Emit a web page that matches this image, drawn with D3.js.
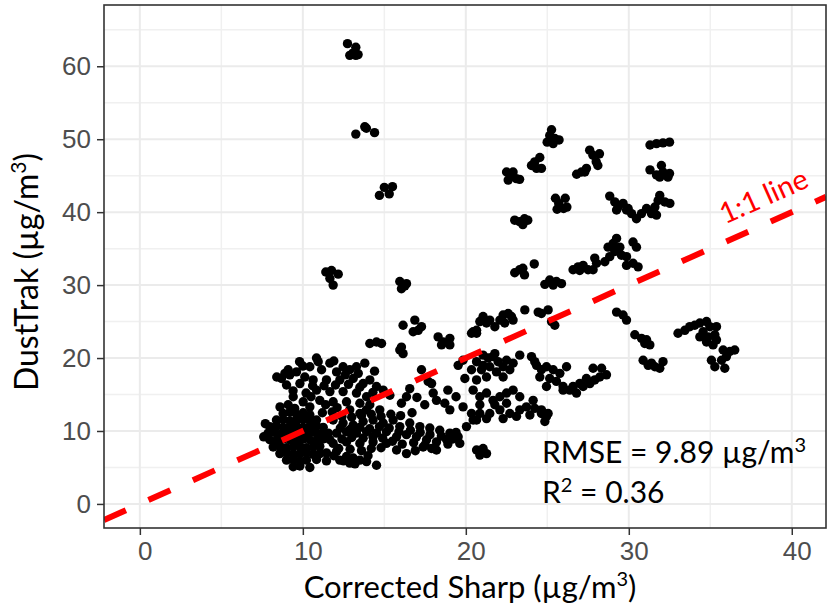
<!DOCTYPE html>
<html>
<head>
<meta charset="utf-8">
<title>DustTrak vs Corrected Sharp</title>
<script src="https://cdn.jsdelivr.net/npm/d3@7"></script>
<style>
  body { margin: 0; background: #fff; }
  svg { display: block; }
  .tick text { font-family: "Liberation Sans", Arial, sans-serif; font-size: 26px; fill: #4d4d4d; }
  .tick line { stroke: #333; stroke-width: 1.5; }
  .title { font-family: Lato, "Open Sans", sans-serif; font-size: 30px; fill: #000; }
</style>
</head>
<body>
<script>
// values: [corrected Sharp, DustTrak] in ug/m3
var highPoints = [
  [12.74,63.1],[13.25,62.6],[12.88,61.5],[13.25,61.5],[13.39,61.6],[13.07,61.8],
  [13.25,50.7],[13.8,51.7],[13.9,51.5],[14.4,50.9],
  [14.7,42.3],[15.0,43.4],[15.3,42.5],[15.5,43.5],
  [11.41,31.8],[11.76,32.0],[12.17,31.5],[11.66,30.9],[11.86,30.0],
  [15.95,30.5],[16.36,30.2],[16.05,29.5],[16.26,29.9]
];
var upperRight = [
  [25.26,51.3],[25.15,50.5],[24.99,49.6],[25.46,50.1],[25.72,49.9],[25.36,49.4],
  [24.54,47.5],[24.23,46.9],[24.03,46.4],[24.34,46.0],[24.64,46.0],
  [22.5,45.5],[22.9,45.5],[22.6,44.4],[23.1,44.6],[22.8,44.9],[23.3,44.5],
  [27.6,48.5],[27.8,47.8],[28.2,48.0],[28.0,46.9],[28.1,46.4],[27.4,46.0],[27.1,45.5],[26.8,45.2],[27.3,45.5],
  [31.3,49.2],[31.7,49.4],[32.1,49.5],[32.5,49.6],
  [31.3,45.8],[32.0,46.4],[32.1,45.5],[32.5,45.3],[31.9,44.8],[32.4,44.8],[31.7,45.1],
  [25.5,41.9],[26.1,41.9],[25.7,41.2],[26.0,40.5],[25.6,40.4],[26.2,40.7],
  [23.0,38.9],[23.3,38.7],[23.6,39.1],[23.5,38.3],[23.8,38.9],
  [28.83,42.2],[29.14,41.4],[29.34,40.7],[29.65,41.2],[29.86,40.3],[30.17,39.8],[30.47,39.1],[30.78,39.8],
  [31.09,40.5],[31.39,39.8],[31.6,40.7],[31.8,41.6],[31.9,42.3],[32.21,41.4],[32.52,41.2],[31.7,39.6],[29.96,40.5],[29.25,40.3],
  [29.25,36.4],[29.04,35.7],[28.73,35.2],[29.45,35.2],[29.14,34.6],[28.83,33.9],[28.53,33.2],[29.55,34.1],
  [30.26,35.9],[30.47,35.2],[29.86,33.9],[30.26,33.0],[30.57,32.5],[29.86,32.7],
  [26.58,32.1],[26.89,32.5],[27.2,32.7],[27.5,32.1],[27.91,33.7],[28.02,33.0],[27.81,32.1],[26.99,32.0],
  [23.0,31.7],[23.3,32.1],[23.6,31.4],[24.2,32.9],[23.5,32.3],
  [24.85,30.1],[25.15,30.7],[25.56,30.5],[25.87,30.2],[25.36,30.0]
];
var midRight = [
  [21.06,25.7],[20.86,25.0],[20.45,23.6],[21.27,24.8],[21.47,25.2],[21.78,24.3],[22.09,25.2],[22.29,25.9],
  [22.6,26.1],[22.8,25.7],[22.39,24.8],[22.9,25.2],[23.62,26.6],[24.44,26.3],[24.64,26.1],[25.05,26.6],
  [25.26,25.0],[25.46,24.5],[20.66,23.4],
  [20.66,19.5],[21.06,20.4],[21.37,20.0],[21.67,20.2],[21.98,19.5],[22.29,18.8],[22.7,18.4],[21.47,18.8],
  [20.96,18.4],[21.88,18.1],[21.27,17.4],[20.66,17.0],[22.29,17.4],[22.9,19.3],[22.5,19.7],[21.78,20.6],[21.06,19.0],
  [20.45,15.6],[20.86,14.7],[21.27,15.2],[21.67,14.2],[22.09,14.7],[22.5,15.2],[22.9,15.6],[23.31,14.7],
  [23.72,13.3],[24.13,14.2],[23.31,12.9],[22.7,12.4],[22.09,12.9],[21.47,12.4],[20.86,12.4],[20.45,11.5],
  [21.27,11.7],[22.29,11.7],[23.11,12.0],[23.93,12.2],[24.64,12.4],[24.95,12.0],[24.85,11.3],[20.86,13.6],
  [21.78,13.6],[22.5,13.8],
  [23.31,20.4],[24.03,20.2],[24.34,19.0],[24.64,18.4],[24.95,18.8],[25.36,18.4],[25.77,17.9],[26.18,18.8],
  [24.54,17.4],[25.15,17.2],[25.56,16.8],[25.97,16.1],[24.95,16.1],[24.23,19.5],
  [26.38,15.6],[26.79,15.2],[27.2,16.1],[27.61,16.5],[27.91,17.0],[28.22,17.4],[28.63,17.7],[28.33,18.6],
  [27.81,18.6],[27.4,17.2],[26.99,16.5],[26.58,16.1],[25.97,15.6],
  [24.23,13.1],[24.64,12.9],[25.05,12.4],
  [20.66,7.4],[21.06,7.6],[21.27,6.9],[20.86,6.7],
  [29.25,26.3],[29.65,25.9],[29.86,25.2],
  [30.37,23.2],[30.78,22.7],[30.98,22.0],[31.29,21.8],[31.09,22.5],
  [30.88,19.7],[31.19,19.0],[31.6,18.8],[31.9,18.6],[32.1,19.5],[31.39,19.3],
  [33.02,23.4],[33.44,23.8],[33.74,24.3],[34.05,24.5],[34.36,24.8],[34.77,25.0],[34.97,24.3],[35.38,24.3],
  [34.56,23.6],[34.87,22.9],[35.28,23.2],[34.77,22.2],[35.17,21.8],[35.38,22.5],[35.79,21.1],[36.2,20.9],
  [36.5,21.1],[35.99,20.2],[35.69,19.7],[35.07,19.7],[35.28,18.8],[35.89,18.6],[34.36,22.9]
];
var midLeft = [
  [16.15,24.5],[16.87,25.2],[16.77,23.6],[17.08,23.8],[17.28,24.3],
  [14.11,22.0],[14.52,22.2],[14.83,22.0],
  [16.05,21.5],[16.15,20.6],[15.95,21.1],
  [18.3,22.9],[18.61,22.2],[19.02,22.7],[19.02,21.8],[18.51,21.8],
  [20.35,23.4],[20.66,23.8],
  [17.28,18.4],[17.69,16.8],[17.9,16.5],
  [19.53,19.0],[19.83,19.7],[19.94,17.2],[20.35,18.4],
  [16.56,15.8],[16.36,14.7],[16.05,13.8],
  [17.48,13.6],[18.2,14.2],[18.71,13.8],[19.02,12.9],[19.83,13.3],[20.35,12.4],[20.66,11.5],[20.04,10.6],
  [8.69,17.2],[9.2,17.7],[9.61,18.1],[10.12,17.4],[10.43,18.8],[10.94,19.5],[11.15,18.4],[11.66,19.3],
  [12.07,18.1],[12.47,18.8],[12.88,18.4],[13.29,18.8],[13.8,19.3],[9.0,16.3],[9.82,16.5],[10.63,17.0],
  [11.45,17.0],[12.27,17.0],[13.09,17.2],[13.7,16.5],[14.11,17.0],[14.52,16.1],[14.93,15.6],[15.34,14.9],
  [10.84,15.6],[11.66,15.4],[12.47,15.4],[13.29,15.2],[13.91,14.7],[11.04,14.2],[11.86,14.0],[12.68,14.0],
  [13.5,13.8],[14.11,13.6],[14.72,12.9],[10.43,13.3],[9.41,14.7],[10.02,14.0],[12.88,12.9],[13.5,12.4],
  [10.84,20.0],[8.4,17.4],[8.9,17.9],[8.6,13.3],[9.1,13.6],[9.5,13.1],[7.6,9.2],[7.7,11.0],
  [12.07,7.2],[12.68,6.5],[13.09,6.3],[13.5,6.0],[13.91,5.8],[14.52,5.3],[12.88,5.6],[12.27,6.0],
  [11.86,11.5],[12.47,11.1],[13.09,10.8],[13.7,11.3],[14.31,11.5],[14.93,11.1],[15.54,11.5],[15.95,10.6],
  [16.56,11.1],[17.18,10.6],[17.79,10.4],[18.4,10.1],[19.02,9.7],[19.53,9.2],[19.63,8.3],
  [12.07,9.7],[12.68,9.9],[13.29,9.7],[13.91,9.9],[14.52,9.7],[15.13,9.9],[15.75,9.2],[16.36,9.5],
  [16.97,9.2],[17.59,8.8],[18.2,8.5],[18.82,8.8],
  [11.86,8.3],[12.68,8.5],[13.5,8.3],[14.31,8.5],[15.13,8.3],[15.75,7.4],[16.36,6.9],[17.38,7.8],[18.2,7.4]
];
var bandFill = [
  [12.3,10.4],[12.9,10.2],[13.5,10.5],[14.1,10.3],[14.7,10.6],[15.3,10.4],[15.9,9.9],[16.6,10.1],
  [17.2,9.8],[17.8,9.5],[18.5,9.3],[19.2,8.9],[12.4,12.0],[13.0,11.9],[13.6,12.1],[14.2,12.3],
  [14.8,12.0],[15.4,12.3],[16.0,12.1],[16.7,12.5],[12.4,8.9],[13.0,9.1],[13.7,9.0],[14.3,9.2],
  [14.9,9.0],[15.5,8.6],[16.1,8.2],[16.8,8.4],[17.5,8.1],[12.2,7.6],[12.9,7.5],[13.6,7.3],
  [14.2,7.6],[14.8,7.7],[11.9,6.6],[12.5,5.9],[13.2,5.5],[14.0,6.6],[16.9,7.3],[17.9,7.6],
  [18.9,8.2],[19.4,9.8],
  [9.4,15.5],[10.2,15.2],[10.6,16.2],[11.3,16.2],[12.0,16.3],[12.8,16.4],[13.5,16.0],[14.3,15.3],
  [10.0,18.9],[9.1,18.4],[11.9,19.6],[12.6,17.7],[13.4,17.9],[14.4,18.2],[10.5,14.7],[11.4,13.6],
  [12.1,13.2],[13.9,12.9],[11.2,12.5],[11.8,12.6],[9.8,19.5],
  [18.0,15.2],[18.9,15.6],[19.4,14.7],[17.0,14.6]
];
var denseCluster = [
  [8.79,12.4],[9.2,12.6],[9.61,12.3],[10.02,12.5],[10.43,12.2],
  [8.38,11.5],[8.79,11.6],[9.2,11.4],[9.61,11.5],[10.02,11.6],[10.43,11.4],[10.84,11.5],
  [7.97,10.6],[8.38,10.7],[8.79,10.5],[9.2,10.6],[9.61,10.7],[10.02,10.5],[10.43,10.6],[10.84,10.7],[11.25,10.5],
  [7.87,9.7],[8.28,9.8],[8.69,9.6],[9.1,9.7],[9.51,9.8],[9.92,9.6],[10.33,9.7],[10.74,9.8],[11.15,9.6],[11.56,9.7],
  [7.97,8.8],[8.38,8.7],[8.79,8.9],[9.2,8.8],[9.61,8.7],[10.02,8.9],[10.43,8.8],[10.84,8.7],[11.25,8.9],[11.66,8.8],
  [8.18,7.8],[8.59,7.9],[9.0,7.7],[9.41,7.8],[9.82,7.9],[10.22,7.7],[10.63,7.8],[11.04,7.9],
  [8.59,6.9],[9.0,7.0],[9.41,6.8],[9.82,6.9],[10.22,7.0],[10.63,6.8],[11.04,6.9],[11.45,7.0],
  [9.0,6.0],[9.41,6.1],[9.82,5.9],[10.22,6.0],[10.84,6.1],[11.45,5.9],
  [9.41,5.1],[9.82,5.2],[10.43,5.0]
];

var xTicks = [0, 10, 20, 30, 40];
var yTicks = [0, 10, 20, 30, 40, 50, 60];
var xMinor = [5, 15, 25, 35];
var yMinor = [5, 15, 25, 35, 45, 55, 65];
var rmseLine = ["RMSE = 9.89 \u00b5g/m", "3"];
var r2Line = ["R", "2", " = 0.36"];

var points = highPoints.concat(upperRight, midRight, midLeft, bandFill, denseCluster);

var W = 829, H = 607;
var pL = 104, pR = 826, pT = 5, pB = 528;

var svg = d3.select("body").append("svg").attr("width", W).attr("height", H);

var x = d3.scaleLinear().domain([-2.2, 42.1]).range([pL, pR]);
var y = d3.scaleLinear().domain([-3.3, 68.4]).range([pB, pT]);

// grid
var grid = svg.append("g");
grid.selectAll(".vminor").data(xMinor).enter().append("line")
    .attr("x1", d => x(d)).attr("x2", d => x(d)).attr("y1", pT).attr("y2", pB)
    .attr("stroke", "#f0f0f0").attr("stroke-width", 1.5);
grid.selectAll(".hminor").data(yMinor).enter().append("line")
    .attr("y1", d => y(d)).attr("y2", d => y(d)).attr("x1", pL).attr("x2", pR)
    .attr("stroke", "#f0f0f0").attr("stroke-width", 1.5);
grid.selectAll(".vmajor").data(xTicks).enter().append("line")
    .attr("x1", d => x(d)).attr("x2", d => x(d)).attr("y1", pT).attr("y2", pB)
    .attr("stroke", "#ebebeb").attr("stroke-width", 2);
grid.selectAll(".hmajor").data(yTicks).enter().append("line")
    .attr("y1", d => y(d)).attr("y2", d => y(d)).attr("x1", pL).attr("x2", pR)
    .attr("stroke", "#ebebeb").attr("stroke-width", 2);

svg.append("clipPath").attr("id", "panel").append("rect")
    .attr("x", pL).attr("y", pT).attr("width", pR - pL).attr("height", pB - pT);

// points
svg.append("g").selectAll("circle").data(points).enter().append("circle")
    .attr("cx", d => x(d[0])).attr("cy", d => y(d[1])).attr("r", 4.7)
    .attr("fill", "#000");

// 1:1 line
var lineDom = x.domain();
svg.append("line")
    .attr("clip-path", "url(#panel)")
    .attr("x1", x(lineDom[0])).attr("y1", y(lineDom[0]))
    .attr("x2", x(lineDom[1])).attr("y2", y(lineDom[1]))
    .attr("stroke", "#ff0000").attr("stroke-width", 6)
    .attr("stroke-dasharray", "24,24.7");

var ang = Math.atan2(y(0) - y(1), x(1) - x(0)) * 180 / Math.PI;
svg.append("text")
    .attr("class", "title")
    .attr("transform", "translate(" + x(35.9) + "," + y(38.3) + ") rotate(" + (-ang) + ")")
    .style("font-size", "29px").style("fill", "#ff0000")
    .text("1:1 line");

// frame
svg.append("rect")
    .attr("x", pL).attr("y", pT).attr("width", pR - pL).attr("height", pB - pT)
    .attr("fill", "none").attr("stroke", "#333").attr("stroke-width", 1.6);

// axes
var gx = svg.append("g").attr("transform", "translate(0," + pB + ")")
    .call(d3.axisBottom(x).tickValues(xTicks).tickSize(7).tickPadding(7));
gx.select(".domain").remove();
gx.selectAll("text").attr("dx", 5);

var gy = svg.append("g").attr("transform", "translate(" + pL + ",0)")
    .call(d3.axisLeft(y).tickValues(yTicks).tickSize(7).tickPadding(6));
gy.select(".domain").remove();

// axis titles
var xt = svg.append("text").attr("class", "title")
    .attr("x", 470).attr("y", 598).attr("text-anchor", "middle")
    .style("font-size", "31px");
xt.append("tspan").text("Corrected Sharp (\u00b5g/m");
xt.append("tspan").attr("dy", -12).style("font-size", "20px").text("3");
xt.append("tspan").attr("dy", 12).text(")");

var yt = svg.append("text").attr("class", "title")
    .attr("transform", "translate(38,272) rotate(-90)").attr("text-anchor", "middle")
    .style("font-size", "32px");
yt.append("tspan").text("DustTrak (\u00b5g/m");
yt.append("tspan").attr("dy", -12).style("font-size", "21px").text("3");
yt.append("tspan").attr("dy", 12).text(")");

// stats
var s1 = svg.append("text").attr("class", "title").attr("x", 542).attr("y", 463);
s1.append("tspan").text(rmseLine[0]);
s1.append("tspan").attr("dy", -11).style("font-size", "20px").text(rmseLine[1]);

var s2 = svg.append("text").attr("class", "title").attr("x", 542).attr("y", 503);
s2.append("tspan").text(r2Line[0]);
s2.append("tspan").attr("dy", -11).style("font-size", "20px").text(r2Line[1]);
s2.append("tspan").attr("dy", 11).text(r2Line[2]);
</script>
</body>
</html>
